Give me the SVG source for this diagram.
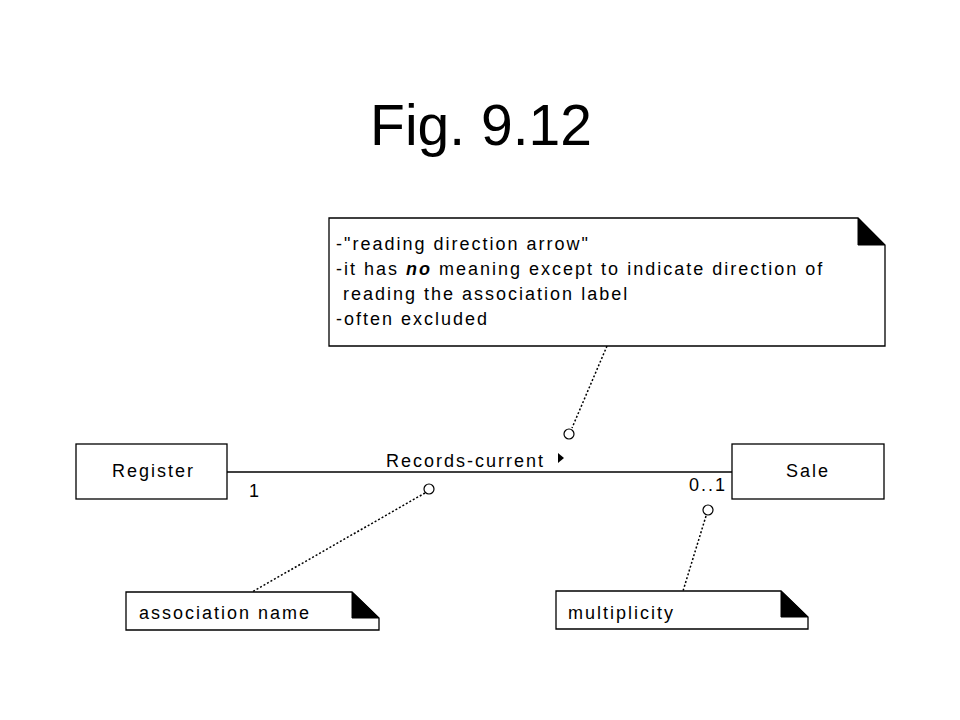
<svg xmlns="http://www.w3.org/2000/svg" width="960" height="720" viewBox="0 0 960 720">
<style>
.t{font-family:"Liberation Sans",Arial,sans-serif;font-size:18px;letter-spacing:2px;fill:#000}
.box{fill:#fff;stroke:#000;stroke-width:1.3}
.fold{fill:#000;stroke:#000;stroke-width:1}
.dot{fill:none;stroke:#000;stroke-width:1.5;stroke-dasharray:2,2}
.ring{fill:#fff;stroke:#000;stroke-width:1.2}
</style>
<rect width="960" height="720" fill="#fff"/>
<text x="481" y="145" text-anchor="middle" font-family="'Liberation Sans',Arial,sans-serif" font-size="57">Fig. 9.12</text>
<g id="connectors">
<line x1="227" y1="472" x2="732" y2="472" stroke="#000" stroke-width="1.3"/>
<line class="dot" x1="607" y1="346" x2="572" y2="428"/>
<line class="dot" x1="425" y1="493" x2="252" y2="592"/>
<line class="dot" x1="706" y1="516" x2="683" y2="591"/>
<circle class="ring" cx="569" cy="434" r="5"/>
<circle class="ring" cx="429" cy="489" r="5"/>
<circle class="ring" cx="708" cy="510" r="5"/>
<text class="t" x="386" y="467">Records-current</text>
<polygon points="558,453 564,458 558,463" fill="#000"/>
<text class="t" x="249" y="497">1</text>
<text class="t" x="689" y="491">0..1</text>
</g>
<g id="register">
<rect class="box" x="76" y="444" width="151" height="55"/>
<text class="t" x="112" y="477">Register</text>
</g>
<g id="sale">
<rect class="box" x="732" y="444" width="152" height="55"/>
<text class="t" x="786" y="477">Sale</text>
</g>
<g id="note-direction">
<path class="box" d="M329,218 L858,218 L885,245 L885,346 L329,346 Z"/>
<polygon class="fold" points="858,218 885,245 858,245"/>
<text class="t" x="336" y="250">-"reading direction arrow"</text>
<text class="t" x="336" y="275">-it has <tspan font-weight="bold" font-style="italic">no</tspan> meaning except to indicate direction of</text>
<text class="t" x="336" y="300" xml:space="preserve"> reading the association label</text>
<text class="t" x="336" y="325">-often excluded</text>
</g>
<g id="note-association">
<path class="box" d="M126,592 L352,592 L379,618 L379,630 L126,630 Z"/>
<polygon class="fold" points="352,592 379,618 352,618"/>
<text class="t" x="139" y="619">association name</text>
</g>
<g id="note-multiplicity">
<path class="box" d="M556,591 L781,591 L808,617 L808,629 L556,629 Z"/>
<polygon class="fold" points="781,591 808,617 781,617"/>
<text class="t" x="568" y="619">multiplicity</text>
</g>
</svg>
